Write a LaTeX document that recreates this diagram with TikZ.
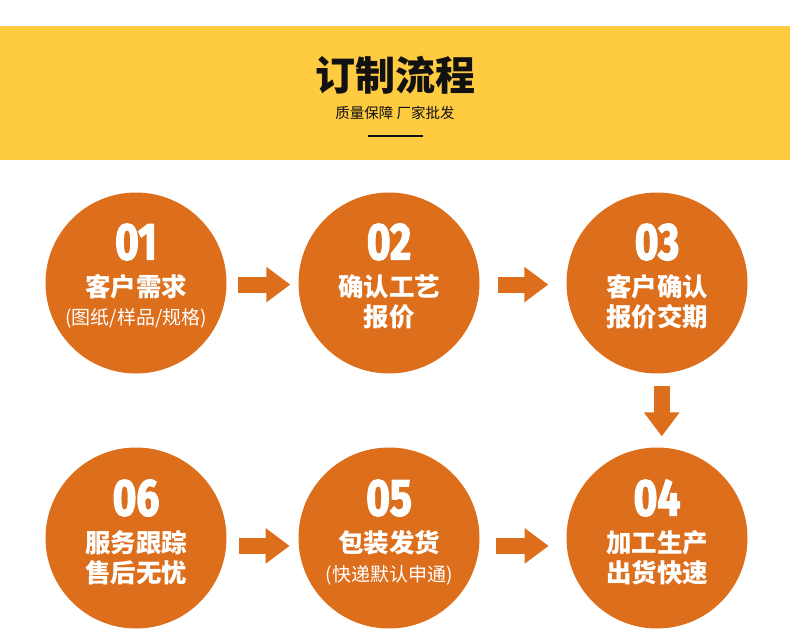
\documentclass[tikz,border=0pt]{standalone}
\usepackage{fontspec}
\usepackage{xcolor}
\usepackage{tikz}
\usetikzlibrary{positioning, arrows.meta}
\newfontfamily\cjk{Noto Sans CJK SC}
\newfontfamily\numfont{Fira Sans}[FakeStretch=0.78, FakeBold=2.5]
\definecolor{band}{RGB}{254,203,65}
\definecolor{rust}{RGB}{220,110,28}
\definecolor{ink}{RGB}{17,17,17}

\begin{document}
\begin{tikzpicture}[x=1pt, y=-1pt,
  stage/.style={circle, fill=rust, minimum size=181pt, inner sep=0pt},
  num/.style={text=white, font=\numfont\bfseries\fontsize{52}{52}\selectfont},
  lab/.style={text=white, font=\cjk\bfseries\fontsize{25.5}{30}\selectfont, align=center, inner sep=0pt},
  note/.style={text=white, font=\cjk\fontsize{19}{22}\selectfont, inner sep=0pt},
  flow/.style={rust, line width=16pt, -{Triangle[width=34pt, length=24pt]}}]
\useasboundingbox (0,0) rectangle (790,640);
% header band
\fill[band] (0,26) rectangle (790,160);
\node[text=ink, font=\cjk\bfseries\fontsize{40}{40}\selectfont] (title) at (395,75) {订制流程};
\node[text=ink, font=\cjk\fontsize{14.5}{16}\selectfont] (sub) at (395,113) {质量保障 厂家批发};
\draw[ink, line width=1.3pt] (368,136) -- (423,136);
% stages
\node[stage] (s1) at (136,283) {};
\node[stage] (s2) at (389,283) {};
\node[stage] (s3) at (657,283) {};
\node[stage] (s4) at (657,538) {};
\node[stage] (s5) at (389,538) {};
\node[stage] (s6) at (136,538) {};
\node[num] (n1) at (136,242) {01};
\node[lab] (l1) at (136,287) {客户需求};
\node[note] (t1) at (136,318) {(图纸/样品/规格)};
\node[num] (n2) at (389,242) {02};
\node[lab] (l2) at (389,302) {确认工艺\\报价};
\node[num] (n3) at (657,242) {03};
\node[lab] (l3) at (657,302) {客户确认\\报价交期};
\node[num] (n4) at (657,498) {04};
\node[lab] (l4) at (657,558) {加工生产\\出货快速};
\node[num] (n5) at (389,498) {05};
\node[lab] (l5) at (389,543) {包装发货};
\node[note] (t5) at (389,575) {(快递默认申通)};
\node[num] (n6) at (136,498) {06};
\node[lab] (l6) at (136,558) {服务跟踪\\售后无忧};
% connectors
\draw[flow, shorten <=11pt, shorten >=8pt] (s1.-1) -- (s2.181);
\draw[flow, shorten <=18pt, shorten >=18pt] (s2.-1) -- (s3.181);
\draw[flow, shorten <=12pt, shorten >=11pt] (s3.-87) -- (s4.87);
\draw[flow, shorten <=13pt, shorten >=9pt] (s6.-5) -- (s5.185);
\draw[flow, shorten <=17pt, shorten >=18pt] (s5.-5) -- (s4.185);
\end{tikzpicture}
\end{document}
